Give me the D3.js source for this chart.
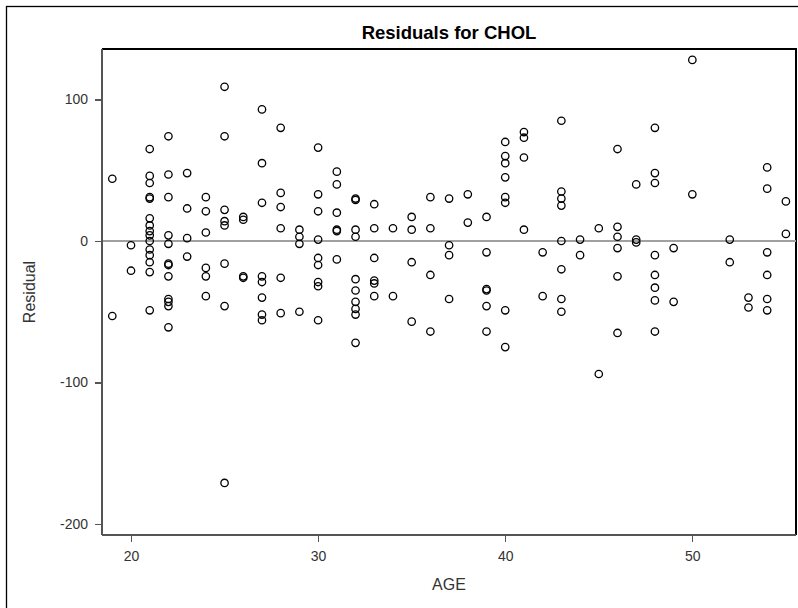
<!DOCTYPE html>
<meta charset="utf-8">
<style>

body {
  margin: 0;
  background: #fff;
}

svg {
  font-family: "Liberation Sans", Arial, sans-serif;
}

.title {
  font-size: 18.5px;
  font-weight: bold;
}

.axis path,
.axis line {
  stroke: #555;
  stroke-width: 1.3px;
  shape-rendering: crispEdges;
}

.axis text {
  font-size: 14px;
  fill: #333;
}

.axis-label {
  font-size: 16px;
  fill: #333;
}

.zero-line {
  stroke: #a0a0a0;
  stroke-width: 1.3px;
  shape-rendering: crispEdges;
}

.dot {
  fill: none;
  stroke: #000;
  stroke-width: 1.3px;
}

</style>
<body>
<script src="https://cdn.jsdelivr.net/npm/d3@7"></script>
<script>

// residuals, one group per age
var ages = [
  19, 19,
  20, 20,
  21, 21, 21, 21, 21, 21, 21, 21, 21, 21, 21, 21, 21, 21, 21,
  22, 22, 22, 22, 22, 22, 22, 22, 22, 22, 22, 22,
  23, 23, 23, 23,
  24, 24, 24, 24, 24, 24,
  25, 25, 25, 25, 25, 25, 25, 25,
  26, 26, 26, 26,
  27, 27, 27, 27, 27, 27, 27, 27,
  28, 28, 28, 28, 28, 28,
  29, 29, 29, 29,
  30, 30, 30, 30, 30, 30, 30, 30, 30,
  31, 31, 31, 31, 31, 31,
  32, 32, 32, 32, 32, 32, 32, 32, 32, 32,
  33, 33, 33, 33, 33, 33,
  34, 34,
  35, 35, 35, 35,
  36, 36, 36, 36,
  37, 37, 37, 37,
  38, 38,
  39, 39, 39, 39, 39, 39,
  40, 40, 40, 40, 40, 40, 40, 40,
  41, 41, 41, 41,
  42, 42,
  43, 43, 43, 43, 43, 43, 43, 43,
  44, 44,
  45, 45,
  46, 46, 46, 46, 46, 46,
  47, 47, 47,
  48, 48, 48, 48, 48, 48, 48, 48,
  49, 49,
  50, 50,
  52, 52,
  53, 53,
  54, 54, 54, 54, 54, 54,
  55, 55
];

var residuals = [
  44, -53,
  -3, -21,
  65, 46, 41, 31, 30, 16, 11, 7, 4, 0, -6, -10, -15, -22, -49,
  74, 47, 31, 4, -2, -16, -17, -25, -41, -43, -46, -61,
  48, 23, 2, -11,
  31, 21, 6, -19, -25, -39,
  109, 74, 22, 14, 11, -16, -46, -171,
  17, 15, -25, -26,
  93, 55, 27, -25, -29, -40, -52, -56,
  80, 34, 24, 9, -26, -51,
  8, 3, -2, -50,
  66, 33, 21, 1, -12, -17, -29, -32, -56,
  49, 40, 20, 8, 7, -13,
  30, 29, 8, 3, -27, -35, -43, -48, -52, -72,
  26, 9, -12, -28, -30, -39,
  9, -39,
  17, 8, -15, -57,
  31, 9, -24, -64,
  30, -3, -10, -41,
  33, 13,
  17, -8, -34, -35, -46, -64,
  70, 60, 55, 45, 31, 27, -49, -75,
  77, 73, 59, 8,
  -8, -39,
  85, 35, 30, 25, 0, -20, -41, -50,
  1, -10,
  9, -94,
  65, 10, 3, -5, -25, -65,
  40, 1, -1,
  80, 48, 41, -10, -24, -33, -42, -64,
  -5, -43,
  128, 33,
  1, -15,
  -40, -47,
  52, 37, -8, -24, -41, -49,
  28, 5
];

var xTicks = [20, 30, 40, 50],
    yTicks = [-200, -100, 0, 100];

var width = 798,
    height = 608;

var margin = {top: 49, right: 2, bottom: 73, left: 102};

var x = d3.scaleLinear()
    .domain([18.45, 55.54])
    .range([margin.left, width - margin.right]);

var y = d3.scaleLinear()
    .domain([-207.8, 135.7])
    .range([height - margin.bottom, margin.top]);

// plain hyphen for negatives, as in the original
var fmt = function(d) { return String(d); };

var svg = d3.select("body").append("svg")
    .attr("width", width)
    .attr("height", height);

// outer frame
svg.append("rect")
    .attr("x", 6.5)
    .attr("y", 6.5)
    .attr("width", width + 10)
    .attr("height", height + 10)
    .attr("fill", "none")
    .attr("stroke", "#000")
    .attr("stroke-width", 1.3);

svg.append("text")
    .attr("class", "title")
    .attr("x", (x.range()[0] + x.range()[1]) / 2)
    .attr("y", 39)
    .attr("text-anchor", "middle")
    .text("Residuals for CHOL");

// top and right edges of the plot box
svg.append("path")
    .attr("d", "M" + x.range()[0] + "," + y.range()[1] + "H" + x.range()[1] + "V" + y.range()[0])
    .attr("fill", "none")
    .attr("stroke", "#000")
    .attr("stroke-width", 1.3)
    .attr("shape-rendering", "crispEdges");

svg.append("line")
    .attr("class", "zero-line")
    .attr("x1", x.range()[0])
    .attr("x2", x.range()[1])
    .attr("y1", y(0))
    .attr("y2", y(0));

var xAxis = svg.append("g")
    .attr("class", "axis")
    .attr("transform", "translate(0," + y.range()[0] + ")")
    .call(d3.axisBottom(x).tickValues(xTicks).tickFormat(fmt)
      .tickSize(7).tickPadding(9).tickSizeOuter(0));

xAxis.select(".domain")
    .attr("d", "M" + x.range()[0] + ",0H" + x.range()[1]);

var yAxis = svg.append("g")
    .attr("class", "axis")
    .attr("transform", "translate(" + x.range()[0] + ",0)")
    .call(d3.axisLeft(y).tickValues(yTicks).tickFormat(fmt)
      .tickSize(7).tickPadding(7).tickSizeOuter(0));

yAxis.select(".domain")
    .attr("d", "M0," + y.range()[1] + "V" + y.range()[0]);

svg.append("text")
    .attr("class", "axis-label")
    .attr("x", (x.range()[0] + x.range()[1]) / 2)
    .attr("y", 590)
    .attr("text-anchor", "middle")
    .text("AGE");

svg.append("text")
    .attr("class", "axis-label")
    .attr("transform", "translate(35," + (y.range()[0] + y.range()[1]) / 2 + ") rotate(-90)")
    .attr("text-anchor", "middle")
    .text("Residual");

svg.append("g")
  .selectAll("circle")
  .data(ages.map(function(a, i) { return {age: a, res: residuals[i]}; }))
  .enter().append("circle")
    .attr("class", "dot")
    .attr("cx", function(d) { return x(d.age); })
    .attr("cy", function(d) { return y(d.res); })
    .attr("r", 3.7);

</script>
